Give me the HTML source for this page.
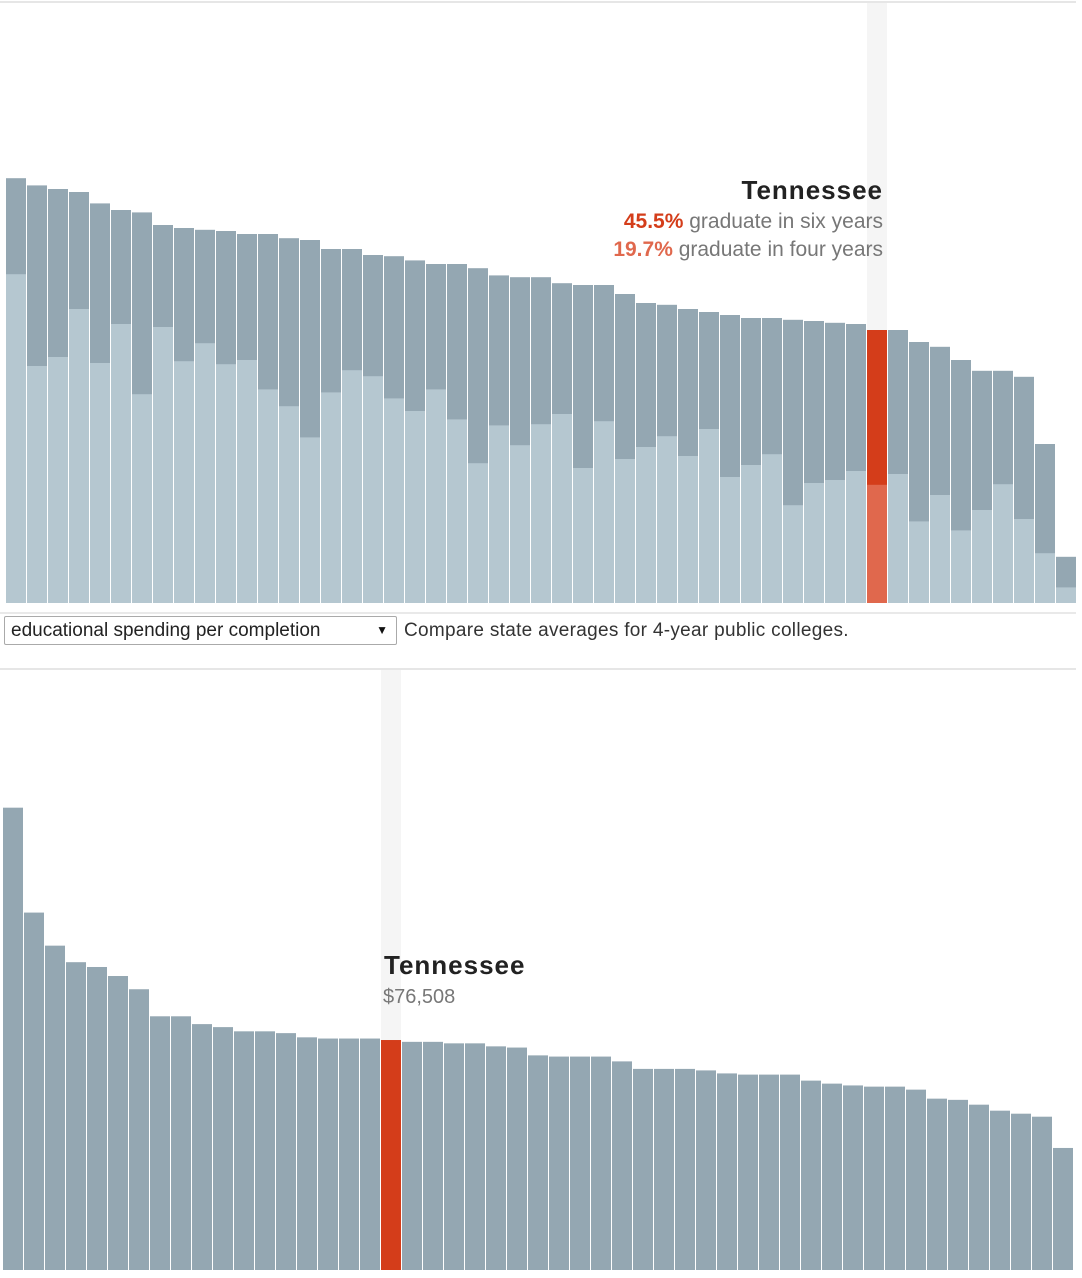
<!DOCTYPE html>
<html><head><meta charset="utf-8"><style>
html,body{margin:0;padding:0;background:#fff;width:1082px;height:1278px;overflow:hidden;font-family:"Liberation Sans",Arial,sans-serif}
svg{position:absolute;left:0;top:0}
.sel{position:absolute;left:4px;top:616px;width:393px;height:29px;border:1px solid #aaa;border-radius:2px;box-sizing:border-box;font-size:19px;color:#222;line-height:27px;padding-left:6px;background:#fff}
.sel span{position:absolute;right:8px;top:0;font-size:12px;color:#111}
.cap{position:absolute;left:404px;top:620px;font-size:19px;color:#333;letter-spacing:0.3px}
</style></head><body>
<svg id="chart" width="1082" height="1278"></svg>
<div class="sel">educational spending per completion<span>▼</span></div>
<div class="cap">Compare state averages for 4-year public colleges.</div>
<script>
const sixYear=[70.8,69.6,69.0,68.5,66.6,65.5,65.1,63.0,62.5,62.2,62.0,61.5,61.5,60.8,60.5,59.0,59.0,58.0,57.8,57.1,56.5,56.5,55.8,54.6,54.3,54.3,53.3,53.0,53.0,51.5,50.0,49.7,49.0,48.5,48.0,47.5,47.5,47.2,47.0,46.7,46.5,45.5,45.5,43.5,42.7,40.5,38.7,38.7,37.7,26.5,7.7];
const fourYear=[54.8,39.5,41.0,49.0,40.0,46.5,34.8,46.0,40.3,43.3,39.8,40.5,35.6,32.8,27.6,35.1,38.8,37.8,34.1,32.0,35.6,30.6,23.3,29.6,26.3,29.8,31.5,22.5,30.3,24.0,26.0,27.8,24.5,29.0,21.0,23.0,24.8,16.3,20.0,20.5,22.0,19.7,21.5,13.6,18.0,12.1,15.5,19.8,14.0,8.3,2.6];
const topHighlight=41;
const spending=[153.8,118.9,107.9,102.4,100.8,97.8,93.4,84.4,84.4,81.8,80.8,79.4,79.4,78.8,77.4,77.0,77.0,77.0,76.508,75.9,75.9,75.4,75.4,74.4,74.0,71.4,71.0,71.0,71.0,69.4,66.9,66.9,66.9,66.4,65.4,65.0,65.0,65.0,63.0,62.0,61.4,61.0,61.0,60.0,57.0,56.6,55.0,53.0,52.0,51.0,40.6];
const botHighlight=18;
const svg=document.getElementById('chart');
const NS='http://www.w3.org/2000/svg';
function mk(t,a){const e=document.createElementNS(NS,t);for(const k in a)e.setAttribute(k,a[k]);svg.appendChild(e);return e;}
const x1=i=>6+i*21, y1=v=>603-v*6;
const x2=i=>3+i*21, y2=v=>1270-v*3.006;
let l=mk('line',{x1:0,x2:1076,y1:2,y2:2,stroke:'#ddd','stroke-width':1.5});


l=mk('line',{x1:0,x2:1076,y1:613,y2:613,stroke:'#e2e2e2','stroke-width':1.5});


l=mk('line',{x1:0,x2:1076,y1:669,y2:669,stroke:'#ddd','stroke-width':1.5});


let h=mk('rect',{x:x1(topHighlight),y:3,width:20,height:600,fill:'#f5f5f5'});


h=mk('rect',{x:x2(botHighlight),y:670,width:20,height:600,fill:'#f5f5f5'});


sixYear.forEach((v,i)=>{
  const hi=i===topHighlight;
  const r=mk('rect',{x:x1(i),y:y1(v),width:20,height:603-y1(v),fill:hi?'#d43d1a':'#94a7b2'});
  
  
  const f=fourYear[i];
  const r2=mk('rect',{x:x1(i),y:y1(f),width:20,height:603-y1(f),fill:hi?'#e0684d':'#b5c7d0'});
  
  
});
spending.forEach((v,i)=>{
  const r=mk('rect',{x:x2(i),y:y2(v),width:20,height:1270-y2(v),fill:i===botHighlight?'#d43d1a':'#94a7b2'});
  
  
});
function txt(x,y,s,a,name){const t=mk('text',Object.assign({x:x,y:y},a));t.innerHTML=s;return t;}
txt(883,199,'Tennessee',{'text-anchor':'end','font-size':26,'font-weight':'bold',fill:'#222','letter-spacing':'1'},'top-state-label');
txt(883,228,'<tspan fill="#d43d1a" font-weight="bold">45.5%</tspan> graduate in six years',{'text-anchor':'end','font-size':21,fill:'#777'},'six-year-label');
txt(883,256,'<tspan fill="#e0684d" font-weight="bold">19.7%</tspan> graduate in four years',{'text-anchor':'end','font-size':21,fill:'#777'},'four-year-label');
txt(384,974,'Tennessee',{'font-size':26,'font-weight':'bold',fill:'#222','letter-spacing':'1'},'bottom-state-label');
txt(383,1003,'$76,508',{'font-size':20,fill:'#777'},'spending-value-label');
</script>
</body></html>
